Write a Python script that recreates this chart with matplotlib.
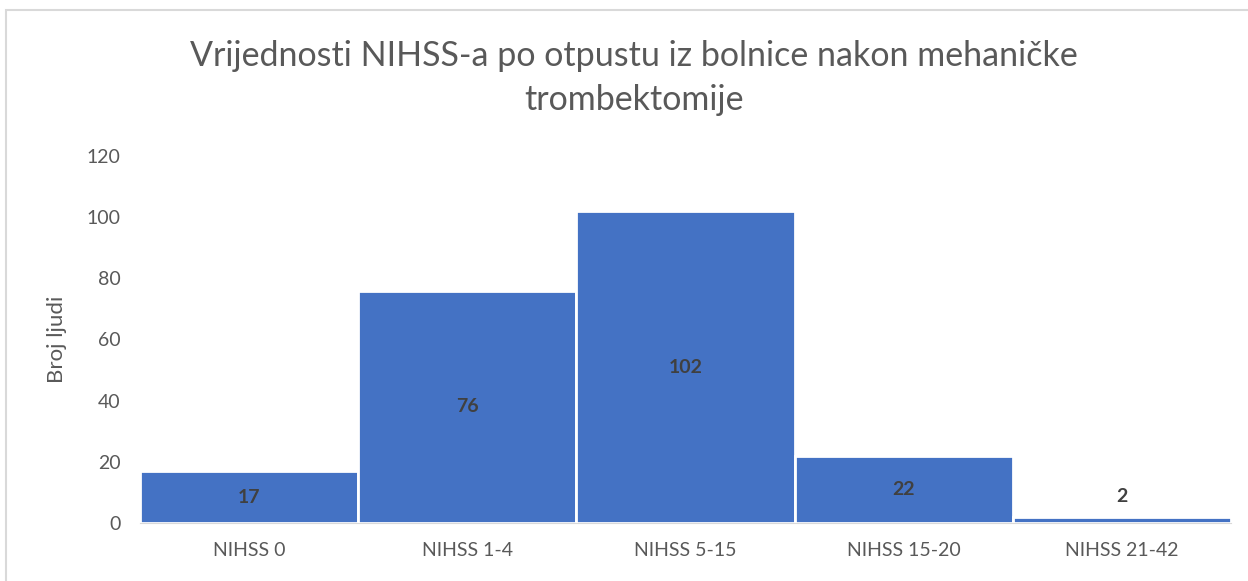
import matplotlib.pyplot as plt
from matplotlib.patches import Rectangle

categories = ['NIHSS 0', 'NIHSS 1-4', 'NIHSS 5-15', 'NIHSS 15-20', 'NIHSS 21-42']
counts = [17, 76, 102, 22, 2]

title = 'Vrijednosti NIHSS-a po otpustu iz bolnice nakon mehaničke\ntrombektomije'
ylabel = 'Broj ljudi'

plt.rcParams['font.family'] = ['Lato', 'DejaVu Sans']

W, H = 1248, 581
fig = plt.figure(figsize=(W / 100, H / 100), dpi=100)
ax = fig.add_axes([140 / W, 58 / H, (1231 - 140) / W, (523 - 156) / H])

# outer chart frame (only top/left visible in the crop)
fig.patches.append(Rectangle((6 / W, -0.1), 1.2, 571 / H + 0.1,
                             transform=fig.transFigure, fill=False,
                             edgecolor='#d9d9d9', linewidth=1.5))

x = list(range(len(categories)))
bars = ax.bar(x, counts, width=1.0, color='#4472c4', edgecolor='white', linewidth=2)

for xi, v in zip(x, counts):
    if v > 10:
        ax.text(xi, v / 2, str(v), ha='center', va='center',
                fontsize=14, fontweight='bold', color='#404040')
    else:
        ax.text(xi, v + 4, str(v), ha='center', va='bottom',
                fontsize=14, fontweight='bold', color='#404040')

ax.set_xlim(-0.5, 4.5)
ax.set_ylim(0, 120)
ax.set_yticks(range(0, 121, 20))
ax.set_xticks(x)
ax.set_xticklabels(categories)
ax.tick_params(axis='both', length=0, labelsize=14, colors='#595959')
ax.tick_params(axis='x', pad=14)
ax.tick_params(axis='y', pad=14)
for s in ['top', 'right', 'left']:
    ax.spines[s].set_visible(False)
ax.spines['bottom'].set_color('#d9d9d9')
ax.set_ylabel(ylabel, fontsize=16, color='#595959', labelpad=14)

fig.text(634 / W, 1 - 78 / H, title, ha='center', va='center',
         fontsize=24.5, color='#595959', linespacing=1.45)

fig.savefig('out.png', dpi=100)
